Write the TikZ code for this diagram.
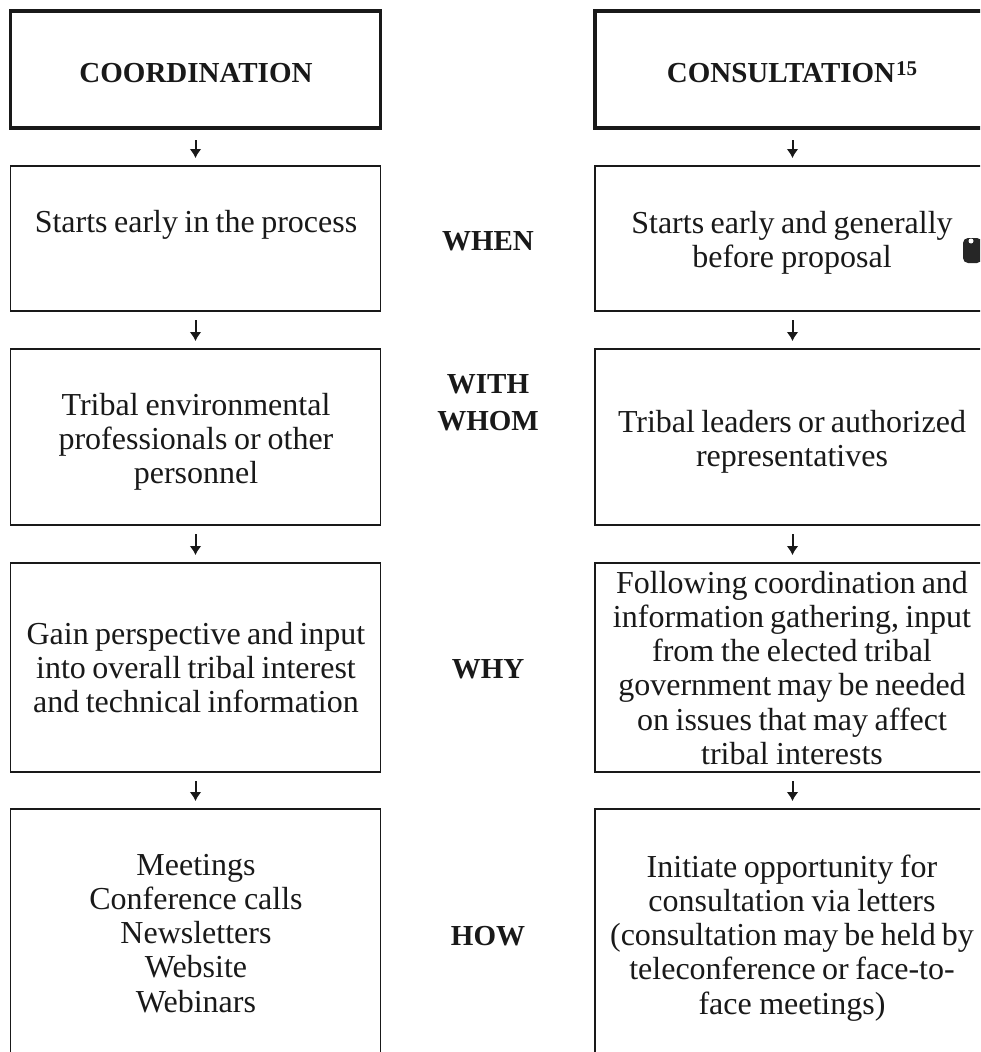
\documentclass[tikz,border=0pt]{standalone}
\usepackage{fontspec}
\setmainfont{Liberation Serif}
\usetikzlibrary{arrows.meta}
\newcommand{\tightspaces}{\spaceskip=5.8pt plus 1pt minus 1pt\relax}
\tikzset{
  box/.style={draw=black!90, line width=1.7pt, rectangle, inner sep=0pt, outer sep=0pt},
  titlebox/.style={box, line width=3.6pt},
  txt/.style={anchor=base, align=center, text width=400pt, inner sep=0pt, font=\fontsize{32}{34.3}\selectfont, text=black!90, execute at begin node=\tightspaces},
  head/.style={anchor=base, align=center, inner sep=0pt, font=\fontsize{29}{37}\selectfont\bfseries, text=black!90},
  arr/.style={-{Latex[length=9pt,width=12pt]}, line width=2pt, draw=black!90, shorten <=9pt, shorten >=8pt}
}
\begin{document}
\begin{tikzpicture}[x=1pt,y=-1pt]
\fill[white] (0,0) rectangle (980,1052);
\useasboundingbox (0,0) rectangle (980,1052);
\clip (0,0) rectangle (980,1052);

% left column boxes
\node[titlebox, minimum width=370pt, minimum height=117pt] (LT) at (195.5,69.5) {};
\node[box, minimum width=370pt, minimum height=145pt] (L2) at (195.5,238.5) {};
\node[box, minimum width=370pt, minimum height=176pt] (L3) at (195.5,437) {};
\node[box, minimum width=370pt, minimum height=209pt] (L4) at (195.5,667.5) {};
\node[box, minimum width=370pt, minimum height=261pt] (L5) at (195.5,939.5) {};

% right column boxes
\node[titlebox, minimum width=395pt, minimum height=117pt] (RT) at (792.5,69.5) {};
\node[box, minimum width=395pt, minimum height=145pt] (R2) at (792.5,238.5) {};
\node[box, minimum width=395pt, minimum height=176pt] (R3) at (792.5,437) {};
\node[box, minimum width=395pt, minimum height=209pt] (R4) at (792.5,667.5) {};
\node[box, minimum width=395pt, minimum height=261pt] (R5) at (792.5,939.5) {};

% arrows
\draw[arr, shorten <=12pt] (LT) -- (L2);
\draw[arr] (L2) -- (L3);
\draw[arr] (L3) -- (L4);
\draw[arr] (L4) -- (L5);
\draw[arr, shorten <=12pt] (RT) -- (R2);
\draw[arr] (R2) -- (R3);
\draw[arr] (R3) -- (R4);
\draw[arr] (R4) -- (R5);

% headings
\node[head] (hLT) at (196,82) {COORDINATION};
\node[head] (hRT) at (792,82) {CONSULTATION\kern1pt\raisebox{7pt}{\fontsize{21}{21}\selectfont 15}};

% middle labels
\node[head] (mWhen) at (488,250) {WHEN};
\node[head] (mWith) at (488,430) {WITH\\WHOM};
\node[head] (mWhy) at (488,678) {WHY};
\node[head] (mHow) at (488,945) {HOW};

% texts
\node[txt] (tL2) at (196,232) {Starts early in the process};
\node[txt] (tR2) at (792,233) {Starts early and generally\\before proposal};
\node[txt] (tL3) at (196,415) {Tribal environmental\\professionals or other\\personnel};
\node[txt] (tR3) at (792,432) {Tribal leaders or authorized\\representatives};
\node[txt] (tL4) at (196,644) {Gain perspective and input\\into overall tribal interest\\and technical information};
\node[txt] (tR4) at (792,593) {Following coordination and\\information gathering, input\\from the elected tribal\\government may be needed\\on issues that may affect\\tribal interests};
\node[txt] (tL5) at (196,875) {Meetings\\Conference calls\\Newsletters\\Website\\Webinars};
\node[txt] (tR5) at (792,877) {Initiate opportunity for\\consultation via letters\\(consultation may be held by\\teleconference or face-to-\\face meetings)};

% small dark mark beside the second right box
\fill[black!85, rounded corners=5pt] (963,238) rectangle (982,263);
\fill[white] (971,241) circle (2.5pt);
\end{tikzpicture}
\end{document}
